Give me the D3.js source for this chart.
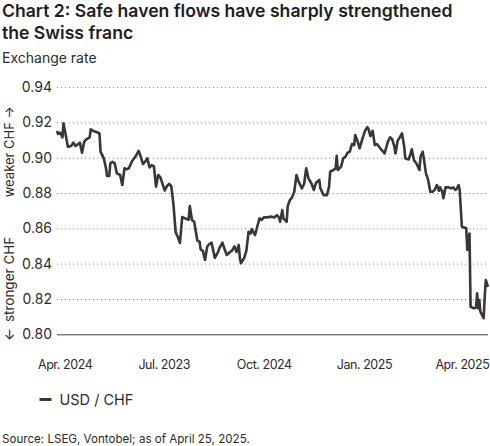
<!DOCTYPE html>
<html>
<head>
<meta charset="utf-8">
<script src="https://cdn.jsdelivr.net/npm/d3@7"></script>
<style>
  html, body { margin: 0; padding: 0; background: #fff; }
  svg { display: block; font-family: "Inter", "Liberation Sans", sans-serif; }
</style>
</head>
<body>
<div id="chart"></div>
<script>
// USD/CHF
const dates = [
  "2024-03-25","2024-03-26","2024-03-28","2024-03-30","2024-03-31","2024-04-02","2024-04-04","2024-04-07",
  "2024-04-09","2024-04-11","2024-04-13","2024-04-15","2024-04-17","2024-04-19","2024-04-21","2024-04-24",
  "2024-04-25","2024-04-27","2024-04-30","2024-05-03","2024-05-04","2024-05-07","2024-05-09","2024-05-10",
  "2024-05-12","2024-05-13","2024-05-15","2024-05-17","2024-05-19","2024-05-22","2024-05-24","2024-05-26",
  "2024-05-28","2024-05-30","2024-06-02","2024-06-05","2024-06-08","2024-06-10","2024-06-12","2024-06-14",
  "2024-06-16","2024-06-18","2024-06-20","2024-06-22","2024-06-24","2024-06-26","2024-06-28","2024-07-02",
  "2024-07-04","2024-07-06","2024-07-08","2024-07-10","2024-07-12","2024-07-14","2024-07-16","2024-07-18",
  "2024-07-21","2024-07-24","2024-07-25","2024-07-27","2024-07-29","2024-08-01","2024-08-03","2024-08-04",
  "2024-08-06","2024-08-08","2024-08-10","2024-08-12","2024-08-14","2024-08-17","2024-08-20","2024-08-21",
  "2024-08-24","2024-08-26","2024-08-28","2024-08-31","2024-09-02","2024-09-04","2024-09-06","2024-09-08",
  "2024-09-09","2024-09-10","2024-09-13","2024-09-15","2024-09-17","2024-09-19","2024-09-20","2024-09-23",
  "2024-09-25","2024-09-27","2024-09-29","2024-10-01","2024-10-04","2024-10-08","2024-10-11","2024-10-13",
  "2024-10-15","2024-10-16","2024-10-18","2024-10-19","2024-10-22","2024-10-23","2024-10-25","2024-10-27",
  "2024-10-29","2024-10-31","2024-11-02","2024-11-05","2024-11-07","2024-11-09","2024-11-11","2024-11-14",
  "2024-11-16","2024-11-18","2024-11-21","2024-11-22","2024-11-25","2024-11-28","2024-11-30","2024-12-01",
  "2024-12-04","2024-12-06","2024-12-07","2024-12-08","2024-12-11","2024-12-13","2024-12-15","2024-12-17",
  "2024-12-19","2024-12-21","2024-12-23","2024-12-24","2024-12-26","2024-12-28","2024-12-31","2025-01-02",
  "2025-01-04","2025-01-05","2025-01-07","2025-01-09","2025-01-11","2025-01-13","2025-01-16","2025-01-18",
  "2025-01-20","2025-01-23","2025-01-25","2025-01-27","2025-01-29","2025-01-30","2025-02-01","2025-02-03",
  "2025-02-05","2025-02-07","2025-02-08","2025-02-11","2025-02-12","2025-02-14","2025-02-16","2025-02-18",
  "2025-02-19","2025-02-21","2025-02-22","2025-02-24","2025-02-25","2025-02-27","2025-03-01","2025-03-03",
  "2025-03-05","2025-03-07","2025-03-09","2025-03-11","2025-03-12","2025-03-14","2025-03-15","2025-03-17",
  "2025-03-20","2025-03-22","2025-03-24","2025-03-26","2025-03-27","2025-03-29","2025-03-30","2025-04-01",
  "2025-04-03","2025-04-05","2025-04-06","2025-04-08","2025-04-09","2025-04-12","2025-04-14","2025-04-15",
  "2025-04-16","2025-04-17","2025-04-18","2025-04-21","2025-04-22","2025-04-23","2025-04-25"
];

const usdChf = [
  0.9152,0.9134,0.9141,0.9115,0.9194,0.9128,0.9062,0.9066,
  0.9085,0.9066,0.9075,0.9085,0.9028,0.9090,0.9104,0.9115,
  0.9160,0.9152,0.9145,0.9138,0.9034,0.8996,0.8940,0.8896,
  0.8896,0.8968,0.8977,0.8968,0.8911,0.8902,0.8845,0.8940,
  0.8934,0.8940,0.8981,0.9005,0.9039,0.9005,0.8964,0.8977,
  0.8996,0.8945,0.8957,0.8952,0.8836,0.8902,0.8888,0.8814,
  0.8839,0.8852,0.8839,0.8736,0.8578,0.8551,0.8517,0.8664,
  0.8655,0.8649,0.8726,0.8647,0.8637,0.8530,0.8524,0.8481,
  0.8473,0.8421,0.8496,0.8511,0.8519,0.8432,0.8466,0.8485,
  0.8519,0.8481,0.8449,0.8466,0.8475,0.8498,0.8466,0.8506,
  0.8432,0.8402,0.8432,0.8473,0.8580,0.8571,0.8595,0.8562,
  0.8609,0.8656,0.8647,0.8662,0.8662,0.8666,0.8662,0.8675,
  0.8662,0.8637,0.8703,0.8656,0.8637,0.8726,0.8760,0.8775,
  0.8807,0.8902,0.8864,0.8826,0.8851,0.8940,0.8883,0.8851,
  0.8817,0.8858,0.8874,0.8826,0.8788,0.8788,0.8836,0.8921,
  0.8930,0.8940,0.9010,0.8930,0.8949,0.8996,0.9005,0.9028,
  0.9034,0.9077,0.9071,0.9128,0.9096,0.9053,0.9115,0.9152,
  0.9172,0.9166,0.9122,0.9152,0.9071,0.9077,0.9053,0.9039,
  0.9024,0.9090,0.9115,0.9104,0.9062,0.9024,0.9096,0.9115,
  0.9138,0.9062,0.8996,0.8990,0.9005,0.9047,0.8985,0.8970,
  0.8957,0.8930,0.9005,0.9034,0.8996,0.8911,0.8874,0.8807,
  0.8807,0.8817,0.8845,0.8813,0.8832,0.8807,0.8770,0.8832,
  0.8832,0.8826,0.8832,0.8817,0.8821,0.8845,0.8817,0.8609,
  0.8605,0.8600,0.8477,0.8571,0.8156,0.8147,0.8151,0.8232,
  0.8147,0.8194,0.8128,0.8091,0.8213,0.8307,0.8269
];

const yTicks = [0.80, 0.82, 0.84, 0.86, 0.88, 0.90, 0.92, 0.94];
const xTickDates = ["2024-04-01", "2024-07-01", "2024-10-01", "2025-01-01", "2025-04-01"];
const xTickLabels = ["Apr. 2024", "Jul. 2023", "Oct. 2024", "Jan. 2025", "Apr. 2025"];

const titleLines = ["Chart 2: Safe haven flows have sharply strengthened", "the Swiss franc"];
const subtitle = "Exchange rate";
const seriesName = "USD / CHF";
const source = "Source: LSEG, Vontobel; as of April 25, 2025.";

const width = 490, height = 446;
const margin = { top: 87, right: 2, bottom: 446 - 334.3, left: 57 };
const lineColor = "#3a3536";
const textColor = "#2b2b2b";

const parse = d3.timeParse("%Y-%m-%d");
const data = dates.map((d, i) => ({ date: parse(d), value: usdChf[i] }));

const x = d3.scaleTime()
  .domain([parse("2024-03-25"), parse("2025-04-25")])
  .range([margin.left, width - margin.right]);

const y = d3.scaleLinear()
  .domain([0.80, 0.94])
  .range([height - margin.bottom, margin.top]);

const svg = d3.select("#chart").append("svg")
  .attr("width", width)
  .attr("height", height);

// title + subtitle
svg.append("g").selectAll("text")
  .data(titleLines)
  .join("text")
  .attr("x", 2)
  .attr("y", (d, i) => 17 + i * 22)
  .attr("font-size", 17.6)
  .attr("font-weight", 600)
  .attr("fill", "#1e1e1e")
  .text(d => d);

svg.append("text")
  .attr("x", 2)
  .attr("y", 63)
  .attr("font-size", 14)
  .attr("fill", textColor)
  .text(subtitle);

// y axis: dotted grid, solid baseline
const yAxis = svg.append("g")
  .attr("transform", `translate(${margin.left},0)`)
  .call(d3.axisLeft(y)
    .tickValues(yTicks)
    .tickFormat(d3.format(".2f"))
    .tickSize(-(width - margin.left - margin.right))
    .tickPadding(5));

yAxis.select(".domain").remove();
yAxis.selectAll(".tick line")
  .attr("stroke", "#8a8a8a")
  .attr("stroke-dasharray", "1,3")
  .filter(d => d === 0.80)
  .attr("stroke", "#444")
  .attr("stroke-dasharray", null);
yAxis.selectAll(".tick text")
  .attr("font-size", 14)
  .attr("font-family", "Inter, sans-serif")
  .attr("fill", textColor);

// x axis labels
const xAxis = svg.append("g")
  .attr("transform", `translate(0,${height - margin.bottom})`)
  .call(d3.axisBottom(x)
    .tickValues(xTickDates.map(parse))
    .tickFormat((d, i) => xTickLabels[i])
    .tickSize(0)
    .tickPadding(25.8));

xAxis.select(".domain").remove();
xAxis.selectAll(".tick text")
  .attr("font-size", 12.5)
  .attr("letter-spacing", -0.45)
  .attr("font-family", "Inter, sans-serif")
  .attr("fill", textColor);

// rotated y-axis notes: arrow, then a gap, then the words
const strong = svg.append("text")
  .attr("transform", "translate(13.5,341) rotate(-90)")
  .attr("font-size", 13.5)
  .attr("fill", textColor);
strong.append("tspan").text("\u2190");
strong.append("tspan").attr("dx", 6).text("stronger CHF");

svg.append("text")
  .attr("transform", "translate(13.5,106) rotate(-90)")
  .attr("text-anchor", "end")
  .attr("font-size", 13)
  .attr("fill", textColor)
  .text("weaker CHF \u2192");

// the line
const line = d3.line()
  .x(d => x(d.date))
  .y(d => y(d.value));

svg.append("path")
  .datum(data)
  .attr("fill", "none")
  .attr("stroke", lineColor)
  .attr("stroke-width", 2.6)
  .attr("stroke-linejoin", "round")
  .attr("d", line);

// legend
const legend = svg.append("g").attr("transform", "translate(39.5,399.5)");
legend.append("line")
  .attr("x1", 0).attr("x2", 12)
  .attr("stroke", lineColor)
  .attr("stroke-width", 3);
legend.append("text")
  .attr("x", 20)
  .attr("dy", "0.35em")
  .attr("font-size", 14.5)
  .attr("fill", textColor)
  .text(seriesName);

svg.append("text")
  .attr("x", 2)
  .attr("y", 442.5)
  .attr("font-size", 11.6)
  .attr("fill", textColor)
  .text(source);
</script>
</body>
</html>
